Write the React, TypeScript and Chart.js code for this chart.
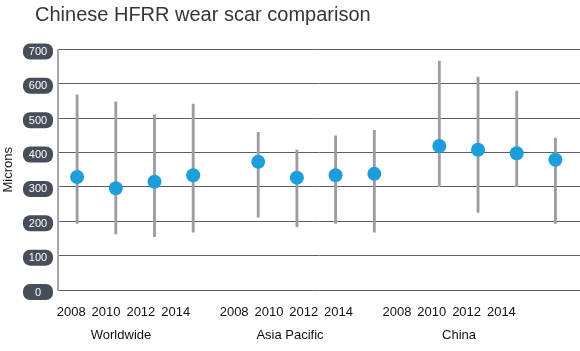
import React, { useEffect, useRef } from "react";
import { Chart, registerables } from "chart.js";

Chart.register(...registerables);

const TITLE = "Chinese HFRR wear scar comparison";
const GROUPS = ["Worldwide", "Asia Pacific", "China"];
const YEARS = ["2008", "2010", "2012", "2014"];
const MEAN = [329, 296, 315, 334, 373, 327, 334, 338, 419, 408, 398, 379];
const LOW = [194, 163, 155, 168, 212, 184, 194, 168, 301, 226, 301, 194];
const HIGH = [568, 548, 510, 541, 459, 407, 449, 465, 666, 620, 579, 442];
const Y_TICKS = [0, 100, 200, 300, 400, 500, 600, 700];
const Y_TITLE = "Microns";

// layout helpers (group spacing in category units)
const GROUP_SPAN = 4.68;
const POS: number[] = [];
GROUPS.forEach((_, g) => YEARS.forEach((__, i) => POS.push(g * GROUP_SPAN + i)));
const GROUP_CENTERS = GROUPS.map((_, g) => g * GROUP_SPAN + (YEARS.length - 1) / 2);
const YEAR_LABELS = GROUPS.flatMap(() => YEARS);

const FONT = "'Liberation Sans', Arial, sans-serif";

export default function App() {
  const ref = useRef<HTMLCanvasElement | null>(null);

  useEffect(() => {
    if (!ref.current) return;
    Chart.defaults.font.family = FONT;

    const titlePlugin = {
      id: "leftTitle",
      afterDraw(chart: any) {
        const ctx = chart.ctx;
        ctx.save();
        ctx.font = `20px ${FONT}`;
        ctx.fillStyle = "#363636";
        ctx.textAlign = "left";
        ctx.textBaseline = "middle";
        ctx.fillText(TITLE, 35, 15);
        ctx.restore();
      },
    };

    const pillPlugin = {
      id: "pills",
      afterDraw(chart: any) {
        const s = chart.scales.y;
        const ctx = chart.ctx;
        ctx.save();
        s.ticks.forEach((t: any) => {
          const y = s.getPixelForValue(t.value) + 2;
          const x = 23, w = 30, h = 16;
          ctx.beginPath();
          ctx.roundRect(x, y - h / 2, w, h, 7);
          ctx.fillStyle = "#464e5a";
          ctx.fill();
          ctx.fillStyle = "#ffffff";
          ctx.font = `11px ${FONT}`;
          ctx.textAlign = "center";
          ctx.textBaseline = "middle";
          ctx.fillText(String(t.value), x + w / 2, y + 0.5);
        });
        ctx.restore();
      },
    };

    const chart = new Chart(ref.current, {
      type: "scatter",
      data: {
        datasets: [
          {
            type: "scatter",
            data: POS.map((x, i) => ({ x, y: MEAN[i] })),
            pointRadius: 7,
            pointHoverRadius: 7,
            pointBorderWidth: 0,
            backgroundColor: "#1c9edb",
            borderColor: "#1c9edb",
            xAxisID: "x",
            yAxisID: "y",
            order: 0,
          } as any,
          {
            type: "bar",
            data: POS.map((x, i) => ({ x, y: [LOW[i], HIGH[i]] })),
            barThickness: 2.2,
            backgroundColor: "#9c9da2",
            borderWidth: 0,
            xAxisID: "x",
            yAxisID: "y",
            order: 1,
          } as any,
        ],
      },
      options: {
        animation: false,
        responsive: true,
        maintainAspectRatio: false,
        layout: { autoPadding: false, padding: { top: 49.5, left: 0, right: 0, bottom: 0 } },
        plugins: { legend: { display: false }, tooltip: { enabled: false }, title: { display: false } },
        scales: {
          x: {
            type: "linear",
            display: false,
            min: -0.4935,
            max: 12.995,
            offset: false,
          },
          xYears: {
            type: "linear",
            position: "bottom",
            min: -0.3813,
            max: 14.619,
            offset: false,
            grid: { display: false, drawTicks: false },
            border: { display: false },
            afterBuildTicks: (s: any) => {
              s.ticks = POS.map((v) => ({ value: v }));
            },
            afterFit: (s: any) => {
              s.height = 30;
              s.paddingLeft = 0;
              s.paddingRight = 0;
            },
            ticks: {
              autoSkip: false,
              maxRotation: 0,
              padding: 14.2,
              color: "#111111",
              font: { size: 13 },
              callback: (_v: any, i: number) => YEAR_LABELS[i],
            },
          },
          xGroups: {
            type: "linear",
            position: "bottom",
            min: -0.2445,
            max: 14.21,
            offset: false,
            grid: { display: false, drawTicks: false },
            border: { display: false },
            afterBuildTicks: (s: any) => {
              s.ticks = GROUP_CENTERS.map((v) => ({ value: v }));
            },
            afterFit: (s: any) => {
              s.height = 31;
              s.paddingLeft = 0;
              s.paddingRight = 0;
            },
            ticks: {
              autoSkip: false,
              maxRotation: 0,
              padding: 7.2,
              color: "#111111",
              font: { size: 13 },
              callback: (_v: any, i: number) => GROUPS[i],
            },
          },
          y: {
            type: "linear",
            position: "left",
            min: 0,
            max: 700,
            afterBuildTicks: (s: any) => {
              s.ticks = Y_TICKS.map((v) => ({ value: v }));
            },
            afterFit: (s: any) => {
              s.width = 58;
              s.paddingTop = 0;
              s.paddingBottom = 0;
            },
            grid: { color: "#5a606a", lineWidth: 1, drawTicks: false },
            border: { display: true, color: "#a7a9ad", width: 2 },
            ticks: { color: "rgba(0,0,0,0)", font: { size: 11 }, padding: 6 },
            title: {
              display: true,
              text: Y_TITLE,
              color: "#1a1a1a",
              font: { size: 13 },
              padding: { top: 1, bottom: 0 },
            },
          },
        },
      } as any,
      plugins: [titlePlugin, pillPlugin],
    });
    return () => chart.destroy();
  }, []);

  return (
    <div style={{ position: "absolute", left: 0, top: 0, width: 580, height: 351 }}>
      <canvas ref={ref} />
    </div>
  );
}
